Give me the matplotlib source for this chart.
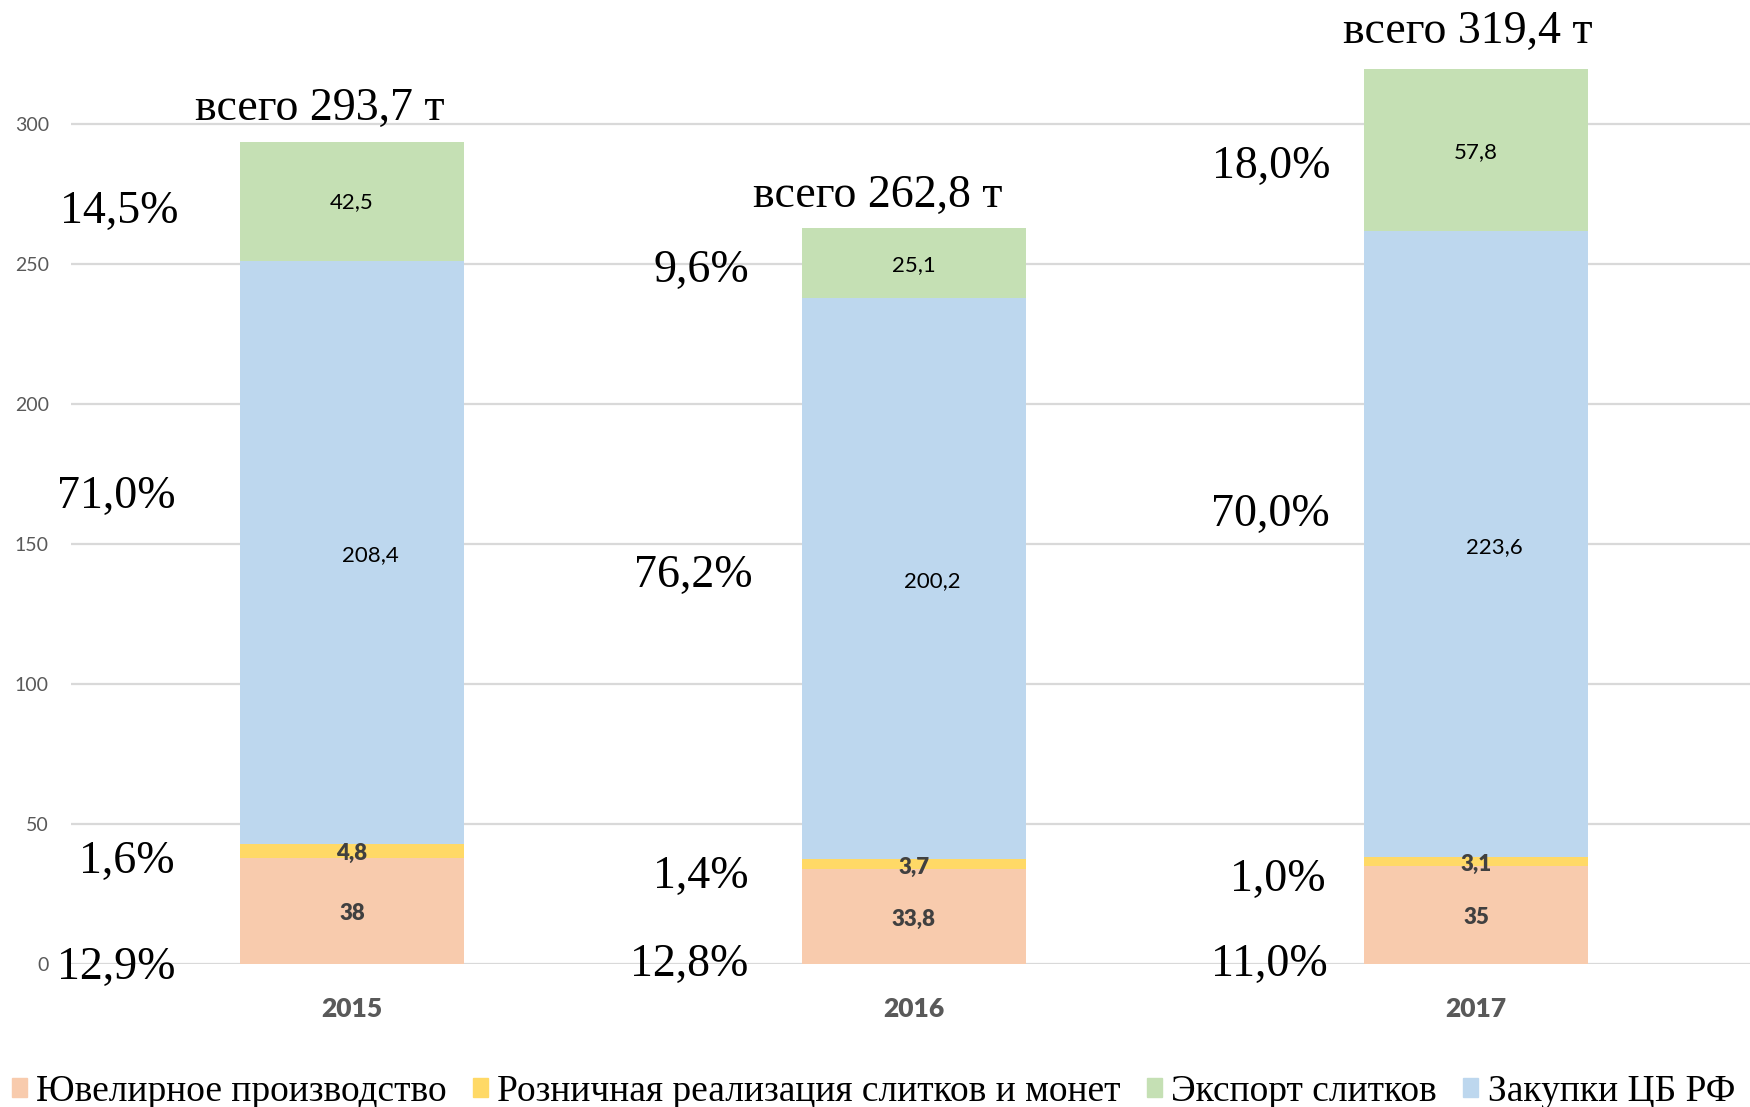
import numpy as np
import matplotlib.pyplot as plt
from matplotlib.patches import Patch

years = ['2015', '2016', '2017']
jewelry = [38, 33.8, 35]
retail = [4.8, 3.7, 3.1]
cb_purchases = [208.4, 200.2, 223.6]
export = [42.5, 25.1, 57.8]

jewelry_lbl = ['38', '33,8', '35']
retail_lbl = ['4,8', '3,7', '3,1']
cb_lbl = ['208,4', '200,2', '223,6']
export_lbl = ['42,5', '25,1', '57,8']

totals = ['всего 293,7 т', 'всего 262,8 т', 'всего 319,4 т']
pct_jewelry = ['12,9%', '12,8%', '11,0%']
pct_retail = ['1,6%', '1,4%', '1,0%']
pct_cb = ['71,0%', '76,2%', '70,0%']
pct_export = ['14,5%', '9,6%', '18,0%']

legend_names = ['Ювелирное производство', 'Розничная реализация слитков и монет',
                'Экспорт слитков', 'Закупки ЦБ РФ']

c_jew = '#F8CBAD'
c_ret = '#FFD966'
c_cb = '#BDD7EE'
c_exp = '#C5E0B4'

plt.rcParams['font.family'] = ['Lato', 'DejaVu Sans']
serif = ['Liberation Serif', 'DejaVu Serif']

fig = plt.figure(figsize=(17.5, 11.07), dpi=100)
ax = fig.add_axes([71 / 1750, 143 / 1107, 1686 / 1750, 980 / 1107])

x = np.arange(len(years))
w = 0.4
b1 = np.array(jewelry)
b2 = b1 + np.array(retail)
b3 = b2 + np.array(cb_purchases)

ax.bar(x, jewelry, w, color=c_jew, zorder=2)
ax.bar(x, retail, w, bottom=b1, color=c_ret, zorder=2)
ax.bar(x, cb_purchases, w, bottom=b2, color=c_cb, zorder=2)
ax.bar(x, export, w, bottom=b3, color=c_exp, zorder=2)

ax.set_xlim(-0.5, 2.5)
ax.set_ylim(0, 350)
ax.set_yticks(np.arange(0, 301, 50))
ax.grid(axis='y', color='#D9D9D9', lw=1.6, zorder=0)
for s in ax.spines.values():
    s.set_visible(False)
ax.tick_params(axis='y', length=0, pad=16, labelsize=14, labelcolor='#595959')
ax.tick_params(axis='x', length=0, pad=24, labelsize=19, labelcolor='#595959')
ax.set_xticks(x)
ax.set_xticklabels(years, fontweight='heavy')

# value labels inside segments
for i in range(3):
    ax.text(x[i], jewelry[i] / 2 - 1, jewelry_lbl[i], ha='center', va='center',
            fontsize=16, fontweight='heavy', color='#404040', zorder=3)
    ax.text(x[i], b1[i] + retail[i] / 2 - 1, retail_lbl[i], ha='center', va='center',
            fontsize=16, fontweight='heavy', color='#404040', zorder=3)
    ax.text(x[i] + 0.032, b2[i] + cb_purchases[i] / 2 - 1, cb_lbl[i], ha='center',
            va='center', fontsize=16, color='black', zorder=3)
    ax.text(x[i], b3[i] + export[i] / 2 - 0.5, export_lbl[i], ha='center', va='center',
            fontsize=16, color='black', zorder=3)

# percentage shares left of each bar
pct_dx = [[-0.42, -0.40, -0.42, -0.415], [-0.40, -0.379, -0.393, -0.379],
          [-0.368, -0.352, -0.365, -0.365]]
pct_y = [[-0.4, 37.5, 167.9, 269.6], [0.7, 32.1, 139.6, 248.6],
         [0.7, 31.1, 161.4, 285.7]]
for i in range(3):
    labels = [pct_jewelry[i], pct_retail[i], pct_cb[i], pct_export[i]]
    for k in range(4):
        ax.text(x[i] + pct_dx[i][k], pct_y[i][k] - 1, labels[k], ha='center', va='center',
                fontsize=33, family=serif, color='black', clip_on=False, zorder=4)

# totals above bars
tot_dx = [-0.057, -0.064, -0.014]
tot_y = [306.4, 275.4, 333.9]
for i in range(3):
    ax.text(x[i] + tot_dx[i], tot_y[i] - 1, totals[i], ha='center', va='center',
            fontsize=33, family=serif, color='black', zorder=4)

handles = [Patch(color=c) for c in [c_jew, c_ret, c_exp, c_cb]]
fig.legend(handles, legend_names, loc='center', bbox_to_anchor=(0.499, 0.014),
           ncol=4, frameon=False, prop={'family': serif, 'size': 27},
           handlelength=0.4, handleheight=0.4, handletextpad=0.25,
           columnspacing=0.7, borderpad=0)

fig.savefig('out.png', dpi=100)
